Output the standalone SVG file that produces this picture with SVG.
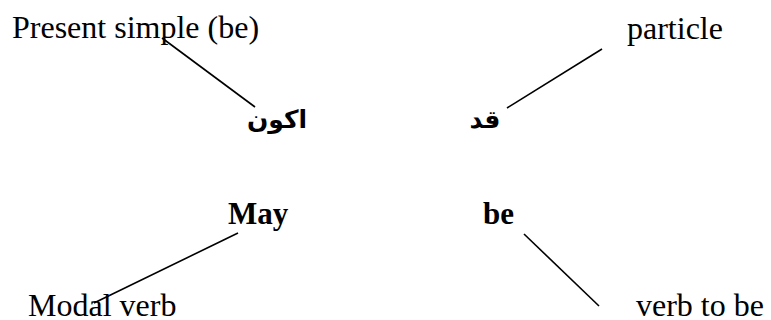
<svg xmlns="http://www.w3.org/2000/svg" width="771" height="320" viewBox="0 0 771 320">
<style>
.en{font-family:"Liberation Serif","Times New Roman",serif;font-size:32px;fill:#000}
.b{font-weight:bold;font-size:31px}
.ar{font-family:"DejaVu Sans",sans-serif;font-weight:bold;font-size:25px;fill:#000}
.ln{stroke:#000;stroke-width:1.6;fill:none}
</style>
<rect width="771" height="320" fill="#fff"/>
<g id="connectors">
<line class="ln" x1="162" y1="38" x2="255" y2="107"/>
<line class="ln" x1="602" y1="49" x2="507" y2="108"/>
<line class="ln" x1="238" y1="233" x2="94" y2="303"/>
<line class="ln" x1="524" y1="234" x2="599" y2="306"/>
</g>
<g id="n-present"><text class="en" x="12" y="38">Present simple (be)</text></g>
<g id="n-particle"><text class="en" x="627" y="39">particle</text></g>
<g id="n-akun"><text class="ar" x="277" y="128" text-anchor="middle" direction="rtl">اكون</text></g>
<g id="n-qad"><text class="ar" x="485" y="128" text-anchor="middle" direction="rtl">قد</text></g>
<g id="n-may"><text class="en b" x="228" y="224">May</text></g>
<g id="n-be"><text class="en b" x="483" y="224">be</text></g>
<g id="n-modal"><text class="en" x="28" y="316">Modal verb</text></g>
<g id="n-verbtobe"><text class="en" x="636" y="316">verb to be</text></g>
</svg>
